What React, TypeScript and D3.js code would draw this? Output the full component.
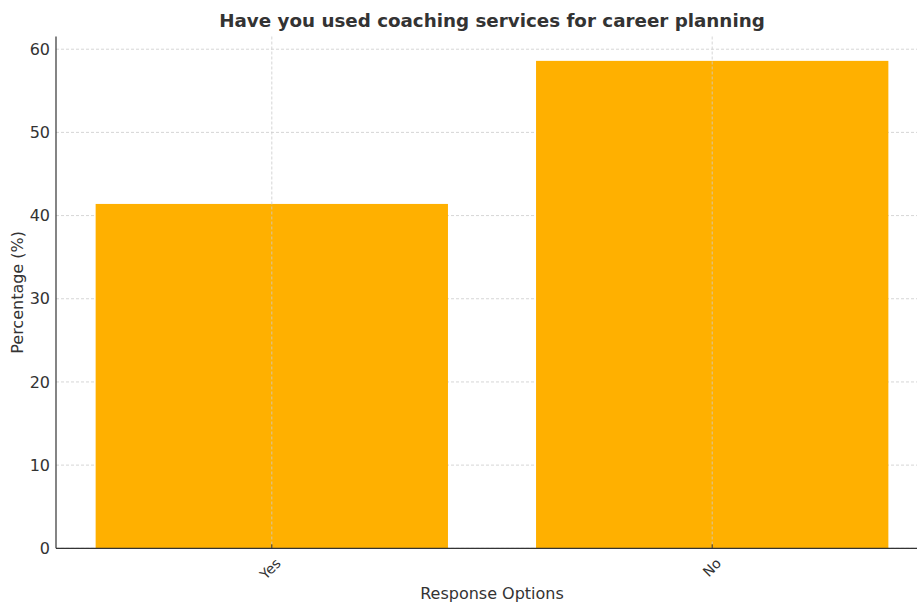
import React from "react";
import * as d3 from "d3";

const categories: string[] = ["Yes", "No"];
const values: number[] = [41.4, 58.6];
const yTicks: number[] = [0, 10, 20, 30, 40, 50, 60];
const title = "Have you used coaching services for career planning";
const xLabel = "Response Options";
const yLabel = "Percentage (%)";

const W = 917;
const H = 604;
const left = 56;
const rightEdge = 928;
const top = 36.5;
const bottom = 548.3;
const FONT = "DejaVu Sans, sans-serif";
const TXT = "#333333";

export default function App() {
  const x = d3.scaleLinear().domain([-0.49, 1.49]).range([left, rightEdge]);
  const yMax = d3.max(values)! * 1.05;
  const y = d3.scaleLinear().domain([0, yMax]).range([bottom, top]);
  const barW = 0.8;

  return (
    <svg width={W} height={H} style={{ position: "absolute", left: 0, top: 0, background: "#fff" }}>
      <rect x={0} y={0} width={W} height={H} fill="#fff" />
      {yTicks.map((t) => (
        <line key={"gy" + t} x1={left} x2={rightEdge} y1={y(t)} y2={y(t)} stroke="#cccccc" strokeWidth={0.8} strokeDasharray="3,2" />
      ))}
      {categories.map((c, i) => (
        <rect key={c} x={x(i - barW / 2)} width={x(i + barW / 2) - x(i - barW / 2)} y={y(values[i])} height={y(0) - y(values[i])} fill="#FFB000" />
      ))}
      {categories.map((c, i) => (
        <line key={"gx" + c} x1={x(i)} x2={x(i)} y1={top} y2={bottom} stroke="#cccccc" strokeWidth={0.8} strokeDasharray="3,2" />
      ))}
      <line x1={left} x2={left} y1={top} y2={bottom} stroke="#333" strokeWidth={1.2} />
      <line x1={left} x2={rightEdge} y1={bottom} y2={bottom} stroke="#333" strokeWidth={1.2} />
      {yTicks.map((t) => (
        <text key={"yt" + t} x={left - 6} y={y(t)} dy="0.35em" textAnchor="end" fontFamily={FONT} fontSize={16} fill={TXT}>
          {t}
        </text>
      ))}
      {categories.map((c, i) => (
        <g key={"xt" + c}>
          <line x1={x(i)} x2={x(i)} y1={bottom} y2={bottom - 4} stroke="#333" strokeWidth={1} />
          <text
            transform={`translate(${x(i) + 3},${bottom + 9}) rotate(-45)`}
            textAnchor="end"
            dy="0.7em"
            fontFamily={FONT}
            fontSize={14}
            fill={TXT}
          >
            {c}
          </text>
        </g>
      ))}
      <text x={(left + rightEdge) / 2} y={593} dy="0.35em" textAnchor="middle" fontFamily={FONT} fontSize={16} fill={TXT}>
        {xLabel}
      </text>
      <text transform={`translate(17,${(top + bottom) / 2}) rotate(-90)`} dy="0.35em" textAnchor="middle" fontFamily={FONT} fontSize={16} fill={TXT}>
        {yLabel}
      </text>
      <text x={(left + rightEdge) / 2} y={21} dy="0.35em" textAnchor="middle" fontFamily={FONT} fontSize={18.3} fontWeight="bold" fill={TXT}>
        {title}
      </text>
    </svg>
  );
}
